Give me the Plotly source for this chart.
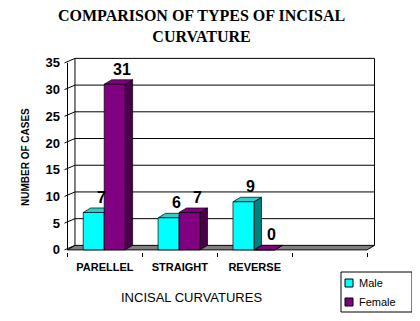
import plotly.graph_objects as go

categories = ["PARELLEL", "STRAIGHT", "REVERSE", ""]
male = [7, 6, 9]
female = [31, 7, 0]
series_names = ["Male", "Female"]
y_ticks = [0, 5, 10, 15, 20, 25, 30, 35]

# 3D look parameters (depth offsets in data units)
DX = 0.10
DY = 0.84
BAR_W = 0.28
OFFS = [-0.29, -0.01]
COLORS = {
    "Male": dict(front="#00FFFF", top="#33CCCC", side="#008080"),
    "Female": dict(front="#800080", top="#800080", side="#4A0048"),
}

# the page body has an 8px margin; lay out in figure pixels = screen pixels - 8
PAD = 8
W, H = 420 - PAD, 321 - PAD
ML, MT = 63 - PAD, 57 - PAD
MR = W - (379 - PAD)
MB = H - (252 - PAD)
PW, PH = W - ML - MR, H - MT - MB


def px_to_paper(px, py):
    # px, py are screen pixels
    return (px - PAD - ML) / PW, (H - MB - (py - PAD)) / PH


fig = go.Figure()

shapes = []
xl, xr = -0.5, len(categories) - 0.5
ymax = y_ticks[-1]
line = dict(color="black", width=1)
for v in y_ticks[1:]:
    shapes.append(dict(type="line", xref="x", yref="y", x0=xl + DX, x1=xr + DX,
                       y0=v + DY, y1=v + DY, line=line, layer="below"))
for v in y_ticks:
    shapes.append(dict(type="line", xref="x", yref="y", x0=xl - 0.04, x1=xl + DX,
                       y0=v, y1=v + DY, line=line, layer="below"))
shapes.append(dict(type="line", xref="x", yref="y", x0=xl + DX, x1=xl + DX,
                   y0=DY, y1=ymax + DY, line=line, layer="below"))
shapes.append(dict(type="line", xref="x", yref="y", x0=xr + DX, x1=xr + DX,
                   y0=DY, y1=ymax + DY, line=line, layer="below"))
shapes.append(dict(type="line", xref="x", yref="y", x0=xl, x1=xl,
                   y0=0, y1=ymax, line=line, layer="below"))
floor_path = (f"M{xl},0 L{xr},0 L{xr + DX},{DY} L{xl + DX},{DY} Z")
shapes.append(dict(type="path", xref="x", yref="y", path=floor_path,
                   fillcolor="#808080", line=line, layer="below"))


def faces(vals, off):
    fx, fy, tx, ty, sx, sy = [], [], [], [], [], []
    for i, v in enumerate(vals):
        x0 = i + off
        x1 = x0 + BAR_W
        fx += [x0, x1, x1, x0, x0, None]
        fy += [0, 0, v, v, 0, None]
        tx += [x0, x1, x1 + DX, x0 + DX, x0, None]
        ty += [v, v, v + DY, v + DY, v, None]
        sx += [x1, x1 + DX, x1 + DX, x1, x1, None]
        sy += [0, DY, v + DY, v, 0, None]
    return (fx, fy), (tx, ty), (sx, sy)


annotations = []
for name, vals, off in [("Male", male, OFFS[0]), ("Female", female, OFFS[1])]:
    (fx, fy), (tx, ty), (sx, sy) = faces(vals, off)
    c = COLORS[name]
    for (xx, yy, col) in [(sx, sy, c["side"]), (tx, ty, c["top"]), (fx, fy, c["front"])]:
        fig.add_trace(go.Scatter(x=xx, y=yy, mode="lines", fill="toself",
                                 fillcolor=col, line=dict(color="black", width=0.7),
                                 showlegend=False, hoverinfo="skip", name=name))
    for i, v in enumerate(vals):
        annotations.append(dict(x=i + off + BAR_W / 2 + DX, y=v + DY, xref="x", yref="y",
                                text=str(v), showarrow=False, yanchor="bottom", yshift=0,
                                font=dict(family="Liberation Sans", size=16, color="black",
                                          weight="bold")))

# legend box (drawn to match the reference's compact legend)
lx0, ly0 = px_to_paper(341, 272)
lx1, ly1 = px_to_paper(412, 312)
shapes.append(dict(type="rect", xref="paper", yref="paper", x0=lx0, x1=lx1, y0=ly0, y1=ly1,
                   line=dict(color="black", width=1), fillcolor="white", layer="above"))
for k, name in enumerate(series_names):
    cy = 283 + 19 * k
    sx0, sy0 = px_to_paper(345, cy - 4)
    sx1, sy1 = px_to_paper(353, cy + 4)
    shapes.append(dict(type="rect", xref="paper", yref="paper", x0=sx0, x1=sx1, y0=sy0, y1=sy1,
                       line=dict(color="black", width=1), fillcolor=COLORS[name]["front"],
                       layer="above"))
    tx0, ty0 = px_to_paper(357, cy)
    annotations.append(dict(text=name, xref="paper", yref="paper", x=tx0, y=ty0,
                            showarrow=False, xanchor="left", yanchor="middle",
                            font=dict(family="Liberation Sans", size=11, color="black")))

tx_, ty_ = px_to_paper(201, 26)
annotations.append(dict(text="COMPARISON OF TYPES OF INCISAL<br>CURVATURE",
                        xref="paper", yref="paper", x=tx_, y=ty_, showarrow=False,
                        xanchor="center", yanchor="middle",
                        font=dict(family="Liberation Serif", size=16, color="black",
                                  weight="bold")))
ax, ay = px_to_paper(25, 157)
annotations.append(dict(text="NUMBER OF CASES", xref="paper", yref="paper",
                        x=ax, y=ay, textangle=-90, showarrow=False,
                        xanchor="center", yanchor="middle",
                        font=dict(family="Liberation Sans", size=10, color="black", weight="bold")))
bx, by = px_to_paper(191, 297)
annotations.append(dict(text="INCISAL CURVATURES", xref="paper", yref="paper",
                        x=bx, y=by, showarrow=False,
                        xanchor="center", yanchor="middle",
                        font=dict(family="Liberation Sans", size=13, color="black")))

fig.update_layout(
    width=W, height=H,
    margin=dict(l=ML, r=MR, t=MT, b=MB, autoexpand=False),
    paper_bgcolor="white", plot_bgcolor="white",
    xaxis=dict(type="linear", range=[-0.56, 3.66], showgrid=False, zeroline=False,
               showline=False, tickvals=list(range(len(categories))), ticktext=categories,
               ticks="", tickfont=dict(family="Liberation Sans", size=11, color="black",
                                       weight="bold"),
               minor=dict(tickvals=[k - 0.5 for k in range(len(categories) + 1)],
                          ticks="outside", ticklen=4, tickcolor="black", tickwidth=1),
               ticklabelstandoff=7, fixedrange=True),
    yaxis=dict(range=[-0.4, 36.1], tickvals=y_ticks, showgrid=False, zeroline=False,
               showline=False, ticks="",
               tickfont=dict(family="Liberation Sans", size=13, color="black", weight="bold"),
               ticklabelstandoff=2, fixedrange=True),
    shapes=shapes,
    annotations=annotations,
    showlegend=False,
)

fig.write_html("out.html")
